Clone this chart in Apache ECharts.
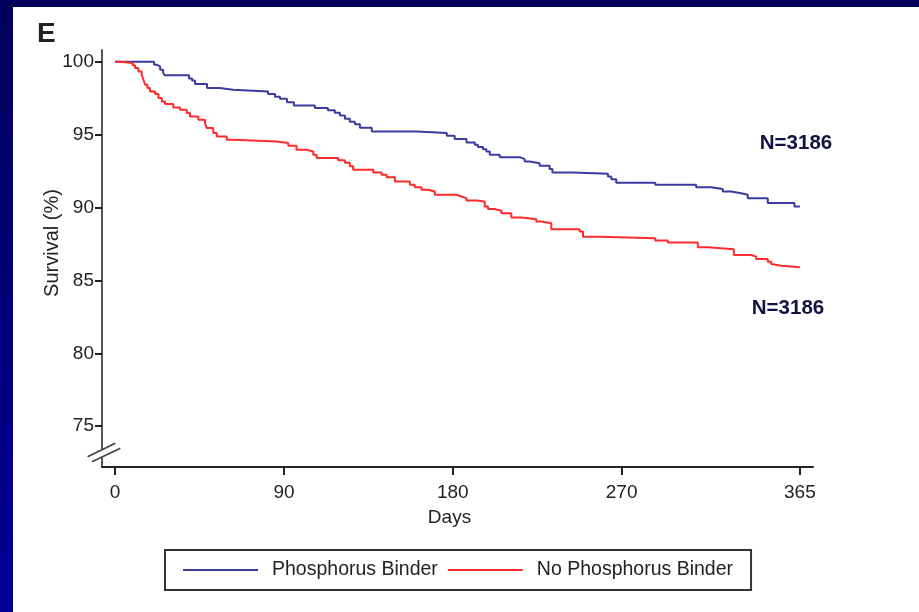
<!DOCTYPE html>
<html>
<head>
<meta charset="utf-8">
<script src="https://cdn.jsdelivr.net/npm/echarts@6/dist/echarts.min.js"></script>
<style>
html, body { margin: 0; padding: 0; width: 919px; height: 612px; overflow: hidden; background: linear-gradient(#00005a, #000098); }
#chart { position: absolute; left: 13px; top: 7px; width: 906px; height: 605px; background: #fff; }
</style>
</head>
<body>
<div id="chart"></div>
<script>
// tick labels
var xTicks = [0, 90, 180, 270, 365];
var yTicks = [75, 80, 85, 90, 95, 100];

// Phosphorus Binder (KM steps)
var blueDays = [0, 20.8, 22.4, 24.0, 25.6, 26.6, 39.4, 41.0, 42.6, 49.0,
  55.9, 62.8, 81.5, 85.2, 87.9, 91.6, 95.3, 106.5, 113.4, 117.1,
  119.8, 122.5, 125.1, 127.8, 130.5, 136.8, 160.8, 176.8, 181.0, 187.3,
  191.7, 193.4, 196.1, 197.9, 199.7, 205.0, 215.7, 218.3, 221.0, 226.3,
  231.6, 233.1, 244.0, 262.7, 264.5, 267.1, 287.9, 309.7, 317.7, 323.9,
  328.4, 333.7, 337.2, 347.9, 362.1, 365];
var blueSurv = [100, 99.79, 99.66, 99.45, 99.24, 99.06, 98.85, 98.70, 98.47, 98.19,
  98.08, 97.96, 97.78, 97.60, 97.46, 97.22, 97.00, 96.82, 96.66, 96.50,
  96.31, 96.09, 95.88, 95.71, 95.47, 95.21, 95.10, 94.92, 94.70, 94.46,
  94.30, 94.14, 94.00, 93.84, 93.61, 93.45, 93.32, 93.15, 93.04, 92.86,
  92.63, 92.40, 92.31, 92.12, 91.94, 91.70, 91.55, 91.39, 91.26, 91.09,
  90.98, 90.87, 90.64, 90.30, 90.06, 90.06];

// No Phosphorus Binder
var redDays = [0, 2.7, 9.4, 10.6, 12.4, 14.2, 15.1, 16.0, 17.2, 18.6,
  21.3, 23.1, 24.9, 26.6, 31.0, 34.6, 38.2, 39.9, 44.4, 47.9,
  48.8, 52.3, 54.2, 59.5, 63.0, 86.1, 92.3, 96.7, 102.1, 105.6,
  107.4, 118.9, 122.5, 125.1, 126.9, 137.6, 142.0, 144.7, 149.1, 157.1,
  159.7, 163.3, 166.8, 170.4, 181.9, 184.6, 187.3, 192.6, 197.0, 198.8,
  202.3, 205.9, 211.2, 216.6, 224.5, 227.2, 232.5, 247.6, 249.4, 258.3,
  287.9, 294.6, 310.6, 315.9, 329.8, 339.0, 341.7, 347.9, 349.7, 350.5,
  355.0, 365];
var redSurv = [100, 99.91, 99.75, 99.57, 99.33, 99.11, 98.76, 98.42, 98.19, 97.96,
  97.78, 97.51, 97.27, 97.09, 96.86, 96.70, 96.48, 96.24, 96.02, 95.79,
  95.45, 95.10, 94.87, 94.64, 94.53, 94.42, 94.23, 93.96, 93.84, 93.61,
  93.39, 93.24, 93.06, 92.82, 92.58, 92.40, 92.24, 92.08, 91.78, 91.55,
  91.39, 91.21, 91.09, 90.87, 90.75, 90.64, 90.47, 90.41, 90.06, 89.90,
  89.77, 89.61, 89.31, 89.20, 89.03, 88.92, 88.51, 88.35, 88.00, 87.89,
  87.73, 87.59, 87.27, 87.14, 86.74, 86.63, 86.47, 86.28, 86.13, 86.01,
  85.90, 85.90];

var nLabels = ['N=3186', 'N=3186'];

var BLUE = '#3a3aa0';
var RED = '#ff2a2a';
var FONT = '"Liberation Sans", Arial, sans-serif';

function pairs(xs, ys) {
  return xs.map(function (x, i) { return [x, ys[i]]; });
}

var chart = echarts.init(document.getElementById('chart'));

chart.setOption({
  animation: false,
  textStyle: { fontFamily: FONT },
  grid: { left: 89, top: 43, right: 106, bottom: 145 },
  legend: {
    left: 152,
    top: 543,
    icon: 'rect',
    itemWidth: 75,
    itemHeight: 2,
    itemGap: 10,
    padding: [10, 18, 10, 18],
    borderColor: '#333',
    borderWidth: 2,
    textStyle: { fontSize: 19.5, color: '#222', padding: [0, 0, 0, 9] },
    data: ['Phosphorus Binder', 'No Phosphorus Binder']
  },
  xAxis: {
    type: 'value',
    min: -7,
    max: 372,
    name: 'Days',
    nameLocation: 'middle',
    nameGap: 41,
    nameTextStyle: { fontSize: 19, color: '#222', padding: [0, 16, 0, 0] },
    axisLine: { onZero: false, lineStyle: { color: '#222', width: 2 } },
    axisTick: { customValues: xTicks, length: 8, lineStyle: { color: '#222', width: 2 } },
    axisLabel: { customValues: xTicks, fontSize: 19, color: '#222', margin: 16 },
    splitLine: { show: false }
  },
  yAxis: {
    type: 'value',
    min: 72.2,
    max: 100.8,
    axisLine: { show: true, onZero: false, lineStyle: { color: '#555', width: 2 } },
    axisTick: { show: true, customValues: yTicks, length: 7, lineStyle: { color: '#222', width: 2 } },
    axisLabel: { customValues: yTicks, fontSize: 19, color: '#222', margin: 8 },
    splitLine: { show: false }
  },
  series: [
    {
      name: 'Phosphorus Binder',
      type: 'line',
      step: 'end',
      symbol: 'none',
      silent: true,
      lineStyle: { color: BLUE, width: 2 },
      itemStyle: { color: BLUE },
      data: pairs(blueDays, blueSurv)
    },
    {
      name: 'No Phosphorus Binder',
      type: 'line',
      step: 'end',
      symbol: 'none',
      silent: true,
      lineStyle: { color: RED, width: 2 },
      itemStyle: { color: RED },
      data: pairs(redDays, redSurv)
    }
  ]
});

// axis break "//" and free texts
var b = chart.convertToPixel({ gridIndex: 0 }, [-7, 73.16]);
chart.setOption({
  graphic: [
    { type: 'rect', shape: { x: b[0] - 4, y: b[1] - 3.5, width: 8, height: 7.5 }, style: { fill: '#fff' }, z: 100 },
    { type: 'line', shape: { x1: b[0] - 14.4, y1: b[1] + 3.7, x2: b[0] + 13.3, y2: b[1] - 9.7 }, style: { stroke: '#444', lineWidth: 1.8 }, z: 101 },
    { type: 'line', shape: { x1: b[0] - 10, y1: b[1] + 8.7, x2: b[0] + 18.3, y2: b[1] - 4.7 }, style: { stroke: '#444', lineWidth: 1.8 }, z: 101 },
    { type: 'text', x: 39, y: 236, rotation: Math.PI / 2,
      style: { text: 'Survival (%)', font: '20px ' + FONT, fill: '#222', textAlign: 'center', textVerticalAlign: 'middle' } },
    { type: 'text', x: 24, y: 27,
      style: { text: 'E', font: 'bold 28px ' + FONT, fill: '#222', textAlign: 'left', textVerticalAlign: 'middle' } },
    { type: 'text', x: 783, y: 136,
      style: { text: nLabels[0], font: 'bold 20.5px ' + FONT, fill: '#111144', textAlign: 'center', textVerticalAlign: 'middle' } },
    { type: 'text', x: 775, y: 301,
      style: { text: nLabels[1], font: 'bold 20.5px ' + FONT, fill: '#111144', textAlign: 'center', textVerticalAlign: 'middle' } }
  ]
});
</script>
</body>
</html>
